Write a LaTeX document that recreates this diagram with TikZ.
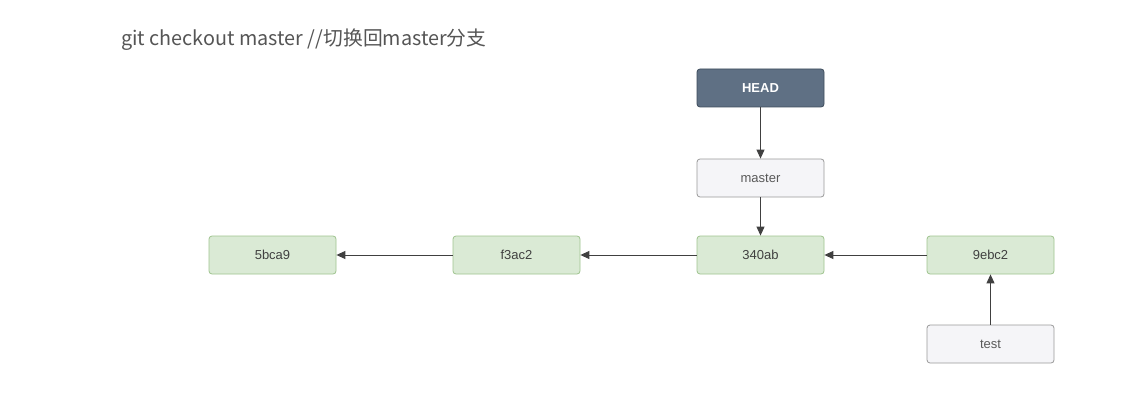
\documentclass[tikz,border=0pt]{standalone}
\usepackage{fontspec}
\setmainfont{Liberation Sans}
\newfontfamily\cjk{Noto Sans CJK SC}
\usetikzlibrary{arrows.meta}
\definecolor{gfill}{HTML}{DAEAD5}
\definecolor{gdraw}{HTML}{9FC48F}
\definecolor{wfill}{HTML}{F5F5F8}
\definecolor{wdraw}{HTML}{9A9A9A}
\definecolor{hfill}{HTML}{5F7084}
\definecolor{hdraw}{HTML}{3E4C5C}
\definecolor{titlec}{HTML}{555555}
\begin{document}
\begin{tikzpicture}[x=1pt,y=-1pt,
  box/.style={rounded corners=3pt, minimum width=127pt, minimum height=38pt, inner sep=0pt, line width=0.8pt, font=\fontsize{13}{15}\selectfont},
  commit/.style={box, fill=gfill, draw=gdraw, text=black!75},
  ref/.style={box, fill=wfill, draw=wdraw, text=black!65},
  headbox/.style={box, fill=hfill, draw=hdraw, text=white, font=\bfseries\fontsize{13}{15}\selectfont},
  conn/.style={-{Triangle[length=9pt,width=8pt]}, line width=1pt, draw=black!75}]
\useasboundingbox (0,0) rectangle (1137,417);
\fill[white] (0,0) rectangle (1137,417);
\node[anchor=base west, text=titlec, inner sep=0pt, font=\cjk\fontsize{19.8}{23}\selectfont] (title) at (121,46) {git checkout master //切换回master分支};
\node[headbox] (head) at (760.5,88) {HEAD};
\node[ref] (master) at (760.5,178) {master};
\node[commit] (c3) at (760.5,255) {340ab};
\node[commit] (c1) at (272.5,255) {5bca9};
\node[commit] (c2) at (516.5,255) {f3ac2};
\node[commit] (c4) at (990.5,255) {9ebc2};
\node[ref] (test) at (990.5,344) {test};
\draw[conn] (head) -- (master);
\draw[conn] (master) -- (c3);
\draw[conn] (c2) -- (c1);
\draw[conn] (c3) -- (c2);
\draw[conn] (c4) -- (c3);
\draw[conn] (test) -- (c4);
\end{tikzpicture}
\end{document}
